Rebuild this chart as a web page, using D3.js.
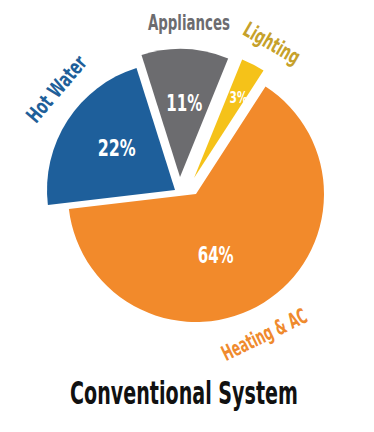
<!DOCTYPE html>
<html>
<head>
<meta charset="utf-8">
<script src="https://cdn.jsdelivr.net/npm/d3@7"></script>
<style>
  body { margin: 0; background: #fff; }
  svg text { font-family: "DejaVu Sans Condensed", "DejaVu Sans", sans-serif; font-stretch: condensed; font-weight: bold; }
</style>
</head>
<body>
<div id="chart"></div>
<script>
// data
const categories = ["Heating & AC", "Hot Water", "Appliances", "Lighting"];
const shares = [64, 22, 11, 3];
const percentLabels = ["64%", "22%", "11%", "3%"];
const chartTitle = "Conventional System";

// styling per slice
const sliceColor = {"Heating & AC": "#f28a2b", "Hot Water": "#1e5f9b", "Appliances": "#6c6c6f", "Lighting": "#f5c219"};
const nameColor = {"Heating & AC": "#ef8a2e", "Hot Water": "#1f5f99", "Appliances": "#6c6c6f", "Lighting": "#c6a12a"};
// how far each wedge is pulled out of the pie (px)
const explode = {"Heating & AC": [10, 8], "Hot Water": [-11, 4], "Appliances": [-6, -9], "Lighting": [8, -8]};
// label placement: [radius, angle nudge in degrees]
const pctPlace = {"Heating & AC": [64, 14], "Hot Water": [72, 3], "Appliances": [74, 1], "Lighting": [92, 1.5]};
const namePlace = {"Heating & AC": [156, 6], "Hot Water": [156, 7.5], "Appliances": [155, 1], "Lighting": [156, 2.5]};
const pctSize = {"Heating & AC": 23, "Hot Water": 23, "Appliances": 23, "Lighting": 15};
const pctWidth = {"Heating & AC": 36, "Hot Water": 38, "Appliances": 36, "Lighting": 18};
const nameWidth = {"Heating & AC": 92, "Hot Water": 80, "Appliances": 82, "Lighting": 62};

const width = 374, height = 432;
const cx = 186, cy = 186, radius = 128;
const rad = Math.PI / 180;
const start = 32.9 * rad;

const svg = d3.select("#chart").append("svg")
    .attr("width", width)
    .attr("height", height);

const rows = categories.map((c, i) => ({name: c, value: shares[i], pct: percentLabels[i]}));

const pie = d3.pie()
    .sort(null)
    .value(d => d.value)
    .startAngle(start)
    .endAngle(start + 2 * Math.PI);

const arc = d3.arc().innerRadius(0).outerRadius(radius);

const slices = svg.append("g")
    .attr("transform", `translate(${cx},${cy})`)
    .selectAll("g")
    .data(pie(rows))
    .enter()
    .append("g")
    .attr("transform", d => `translate(${explode[d.data.name][0]},${explode[d.data.name][1]})`);

slices.append("path")
    .attr("d", arc)
    .attr("fill", d => sliceColor[d.data.name]);

// polar helper, angle measured clockwise from 12 o'clock
const polar = (r, a) => [r * Math.sin(a), -r * Math.cos(a)];
const mid = d => (d.startAngle + d.endAngle) / 2;

// squeeze a text horizontally so it is as narrow as the condensed face in the picture
const squeeze = (node, target) => Math.min(1, target / node.getComputedTextLength());

slices.append("text")
    .attr("text-anchor", "middle")
    .attr("dy", "0.36em")
    .attr("font-size", d => pctSize[d.data.name])
    .attr("fill", "#fff")
    .text(d => d.data.pct)
    .attr("transform", function(d) {
        const p = polar(pctPlace[d.data.name][0], mid(d) + pctPlace[d.data.name][1] * rad);
        const k = squeeze(this, pctWidth[d.data.name]);
        return `translate(${p[0]},${p[1]}) scale(${k},1)`;
    });

// category names sit outside the rim, turned along it
slices.append("text")
    .attr("text-anchor", "middle")
    .attr("dy", "0.36em")
    .attr("font-size", 21)
    .attr("fill", d => nameColor[d.data.name])
    .text(d => d.data.name)
    .attr("transform", function(d) {
        const a = mid(d) + namePlace[d.data.name][1] * rad;
        const p = polar(namePlace[d.data.name][0], a);
        const deg = a / rad % 360;
        let rot = (deg > 90 && deg < 270) ? deg - 180 : (deg > 180 ? deg - 360 : deg);
        if (d.data.name === "Appliances") rot = 0;
        const k = squeeze(this, nameWidth[d.data.name]);
        return `translate(${p[0]},${p[1]}) rotate(${rot}) scale(${k},1)`;
    });

svg.append("text")
    .attr("text-anchor", "middle")
    .attr("font-size", 32)
    .attr("fill", "#111")
    .text(chartTitle)
    .attr("transform", function() {
        return `translate(184,404) scale(${squeeze(this, 228)},1)`;
    });
</script>
</body>
</html>
